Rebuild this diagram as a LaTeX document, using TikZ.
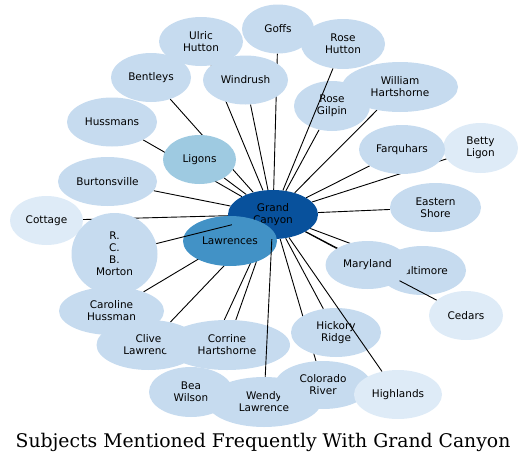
\documentclass[tikz,border=0pt]{standalone}
\usepackage{fontspec}
\setmainfont{DejaVu Sans}
\newfontfamily\titlefont{DejaVu Serif}
\usetikzlibrary{shapes.geometric}
\definecolor{cGC}{HTML}{08519C}
\definecolor{cLaw}{HTML}{4292C6}
\definecolor{cLig}{HTML}{9ECAE1}
\definecolor{cMid}{HTML}{C6DBEF}
\definecolor{cPale}{HTML}{DEEBF7}
\pgfdeclarelayer{behind}
\pgfdeclarelayer{mid}
\pgfdeclarelayer{front}
\pgfsetlayers{behind,mid,main,front}
\tikzset{
  ent/.style={ellipse, inner sep=0pt, minimum height=49pt, fill=cMid, text=black,
    align=center, font=\fontsize{10.5}{12}\selectfont},
  pale/.style={fill=cPale},
  link/.style={draw=black, line width=0.9pt},
  titletext/.style={font=\titlefont\fontsize{18.8}{22}\selectfont, anchor=base, inner sep=0pt}
}
\begin{document}
\begin{tikzpicture}[x=1pt,y=-1pt]
\useasboundingbox (0,0) rectangle (527,463);
% nodes
\node[ent, fill=cGC, minimum width=90pt] (gc) at (273,214.5) {Grand\\Canyon};
\node[ent, fill=cLaw, minimum width=94pt, minimum height=50pt] (law) at (230,241) {Lawrences};
\node[ent, minimum width=76pt, minimum height=50pt] (rgil) at (332,106) {Rose\\Gilpin};
\node[ent, minimum width=84pt] (ulric) at (201,41.5) {Ulric\\Hutton};
\node[ent, minimum width=72pt] (goffs) at (278,29) {Goffs};
\node[ent, minimum width=84pt, minimum height=50pt] (rhut) at (343,44) {Rose\\Hutton};
\node[ent, minimum width=80pt] (bent) at (151,77.5) {Bentleys};
\node[ent, minimum width=85pt] (wind) at (245.5,80) {Windrush};
\node[ent, minimum width=116pt, minimum height=50pt] (will) at (400,87) {William\\Hartshorne};
\node[ent, minimum width=90pt] (huss) at (112,122) {Hussmans};
\node[ent, fill=cLig, minimum width=73pt] (lig) at (199.5,159.5) {Ligons};
\node[ent, pale, minimum width=75pt, minimum height=50pt] (betty) at (480.5,148) {Betty\\Ligon};
\node[ent, minimum width=86pt] (farq) at (402,149.5) {Farquhars};
\node[ent, minimum width=99pt] (burt) at (107.5,181.5) {Burtonsville};
\node[ent, pale, minimum width=73pt] (cott) at (46.5,220.5) {Cottage};
\node[ent, minimum width=91pt] (east) at (435.5,207.5) {Eastern\\Shore};
\node[ent, minimum width=86pt, minimum height=82pt] (morton) at (114.5,254) {R.\\C.\\B.\\Morton};
\begin{pgfonlayer}{mid}
\node[ent, minimum width=87pt] (balt) at (422.5,270.5) {Baltimore};
\end{pgfonlayer}
\node[ent, minimum width=84pt, minimum height=48pt] (mary) at (367.5,265) {Maryland};
\node[ent, pale, minimum width=74pt] (cedars) at (466,315.5) {Cedars};
\node[ent, minimum width=105pt, minimum height=48pt] (carol) at (111.5,311) {Caroline\\Hussman};
\node[ent, minimum width=104pt, minimum height=50pt] (clive) at (148.5,345) {Clive\\Lawrence};
\node[ent, minimum width=126pt, minimum height=50pt] (corr) at (227,345) {Corrine\\Hartshorne};
\node[ent, minimum width=90pt] (hick) at (336,332.5) {Hickory\\Ridge};
\node[ent, minimum width=84pt, minimum height=50pt] (bea) at (191,392) {Bea\\Wilson};
\node[ent, minimum width=114pt, minimum height=50pt] (wendy) at (264,402) {Wendy\\Lawrence};
\node[ent, minimum width=96pt, minimum height=48pt] (colo) at (323,385) {Colorado\\River};
\node[ent, pale, minimum width=88pt] (high) at (398,394.5) {Highlands};
\node[titletext] (title) at (263,447) {Subjects Mentioned Frequently With Grand Canyon};
% edges
\begin{pgfonlayer}{behind}
\foreach \t in {ulric,goffs,bent,wind,will,rgil,huss,lig,farq,betty,burt,cott,east,mary,balt,carol,clive,corr,hick,bea,colo}
  \draw[link] (gc) -- (\t);
\end{pgfonlayer}
\begin{pgfonlayer}{mid}
\draw[link] (gc) -- (cedars);
\end{pgfonlayer}
\begin{pgfonlayer}{front}
\foreach \t in {morton,wendy,rhut,high}
  \draw[link] (gc) -- (\t);
\end{pgfonlayer}
\end{tikzpicture}
\end{document}
